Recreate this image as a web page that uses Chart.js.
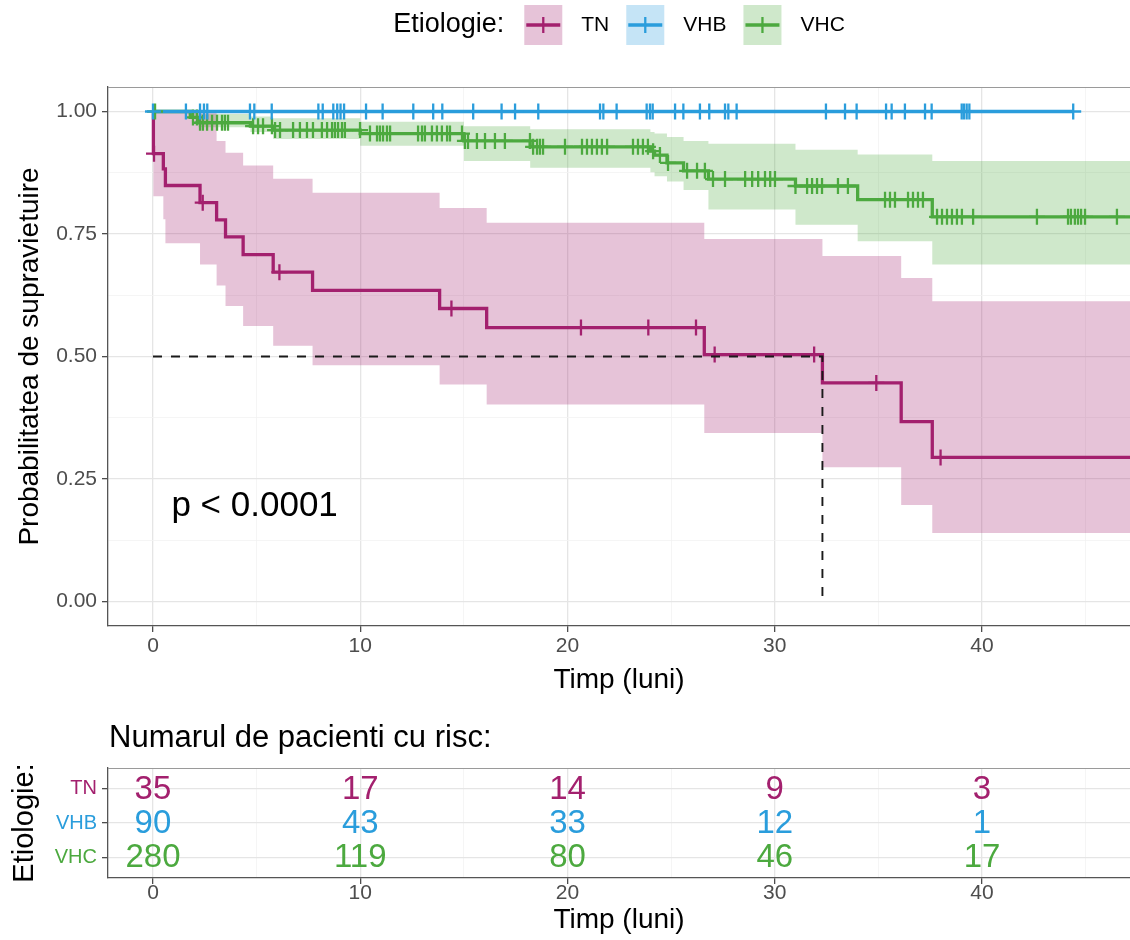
<!DOCTYPE html>
<html>
<head>
<meta charset="utf-8">
<script src="https://cdn.jsdelivr.net/npm/chart.js@4.4.1/dist/chart.umd.min.js"></script>
<style>
  html, body { margin: 0; padding: 0; background: #fff; }
  #wrap { position: relative; width: 1130px; height: 940px; overflow: hidden; }
  canvas { display: block; }
</style>
</head>
<body>
<div id="wrap">
  <canvas id="km" width="1130" height="700"></canvas>
  <canvas id="risk" width="1130" height="240"></canvas>
</div>
<script>
// ---- groups ----
const groups = ['TN', 'VHB', 'VHC'];
const groupColors = ['#A3206E', '#2A9DDC', '#4CA93F'];

// ---- Kaplan-Meier estimates: TN ----
const timeTN  = [0, 0.02, 0.5, 0.6, 2.27, 3.07, 3.5, 4.35, 5.8, 7.7, 13.83, 16.1, 26.6, 32.3, 36.1, 37.6, 48];
const survTN  = [1, 0.914, 0.883, 0.849, 0.814, 0.779, 0.744, 0.708, 0.672, 0.635, 0.598, 0.559, 0.504, 0.446, 0.367, 0.294, 0.294];
const upperTN = [1, 1, 1, 1, 1, 0.94, 0.916, 0.89, 0.863, 0.834, 0.803, 0.773, 0.740, 0.705, 0.660, 0.613, 0.613];
const lowerTN = [1, 0.827, 0.78, 0.731, 0.688, 0.645, 0.603, 0.562, 0.522, 0.482, 0.443, 0.402, 0.344, 0.274, 0.197, 0.140, 0.140];
const censorTN = [0.05, 2.4, 6.1, 14.4, 20.65, 23.9, 26.2, 27.1, 31.9, 34.9, 38.0];

// ---- Kaplan-Meier estimates: VHB ----
const timeVHB = [0, 44.4];
const survVHB = [1, 1];
const censorVHB = [0.0, 1.59, 2.27, 2.46, 2.62, 4.68, 4.89, 5.73, 7.98, 8.19, 8.70, 8.89, 9.05, 9.22,
  10.28, 11.08, 12.56, 13.52, 13.96, 15.45, 16.82, 17.47, 18.59, 21.57, 21.73, 22.37, 23.82, 23.98,
  24.11, 25.19, 25.59, 26.39, 26.84, 27.60, 27.76, 28.16, 32.47, 33.39, 33.95, 35.37, 35.64, 36.28,
  37.25, 37.57, 39.02, 39.13, 39.26, 39.39, 44.4];

// ---- Kaplan-Meier estimates: VHC ----
const timeVHC  = [0, 1.8, 2.2, 4.7, 5.8, 10.0, 15.0, 18.2, 24.0, 24.2, 24.8, 25.6, 26.8, 31.0, 34.0, 37.6, 48];
const survVHC  = [1, 0.988, 0.977, 0.970, 0.962, 0.955, 0.940, 0.928, 0.919, 0.911, 0.895, 0.879, 0.862, 0.848, 0.820, 0.785, 0.785];
const upperVHC = [1, 1, 0.995, 0.99, 0.986, 0.979, 0.970, 0.964, 0.958, 0.955, 0.948, 0.940, 0.934, 0.922, 0.912, 0.899, 0.899];
const lowerVHC = [1, 0.985, 0.968, 0.958, 0.944, 0.930, 0.899, 0.885, 0.876, 0.868, 0.857, 0.840, 0.800, 0.769, 0.735, 0.688, 0.688];
const censorVHC = [0.1, 1.93, 2.12, 2.27, 2.41, 2.61, 2.85, 3.09, 3.33, 3.47, 3.62, 4.83, 5.07, 5.31,
  5.74, 5.89, 6.13, 6.76, 7.09, 7.43, 7.72, 8.15, 8.40, 8.64, 8.78, 8.93, 9.12, 9.26, 9.99, 10.47,
  10.81, 10.95, 11.10, 11.29, 11.44, 12.79, 12.98, 13.12, 13.46, 13.70, 13.94, 14.19, 14.33, 14.91,
  15.05, 15.20, 15.63, 16.02, 16.50, 16.98, 18.19, 18.34, 18.53, 18.67, 18.82, 19.88, 20.70, 20.94,
  21.18, 21.42, 21.66, 21.91, 23.16, 23.40, 23.64, 23.88, 24.13, 24.46, 24.85, 25.77, 26.25, 26.63,
  27.02, 27.60, 28.57, 28.91, 29.20, 29.53, 29.78, 30.01, 31.0, 31.56, 31.80, 32.04, 32.28, 33.05,
  33.53, 35.32, 35.56, 35.80, 36.43, 36.67, 36.91, 37.15, 37.83, 38.07, 38.31, 38.55, 38.79, 39.03,
  39.57, 42.65, 44.15, 44.29, 44.48, 44.63, 44.78, 44.97, 46.51];

// ---- axes ----
const xMajor = [0, 10, 20, 30, 40];
const xMinor = [5, 15, 25, 35, 45];
const yMajor = [0, 0.25, 0.5, 0.75, 1];
const yMinor = [0.125, 0.375, 0.625, 0.875];

// ---- numbers at risk ----
const riskTimes = [0, 10, 20, 30, 40];
const riskTN  = [35, 17, 14, 9, 3];
const riskVHB = [90, 43, 33, 12, 1];
const riskVHC = [280, 119, 80, 46, 17];

const pvalText = 'p < 0.0001';
const legendTitle = 'Etiologie:';

// ---------------------------------------------------------------
const FONT = '"Liberation Sans", Arial, Helvetica, sans-serif';
Chart.defaults.font.family = FONT;
Chart.defaults.color = '#4d4d4d';

const X_MIN = -2.17, X_MAX = 47.14;
const TICK_GREY = '#4d4d4d';

function fade(hex, a) {
  const n = parseInt(hex.slice(1), 16);
  return `rgba(${(n >> 16) & 255},${(n >> 8) & 255},${n & 255},${a})`;
}
function toPoints(times, values) {
  return times.map((t, i) => ({ x: t, y: values[i] }));
}
function stepAt(times, values, t) {
  let v = values[0];
  for (let i = 0; i < times.length; i++) {
    if (times[i] <= t) v = values[i]; else break;
  }
  return v;
}
const isMajorX = c => c.tick && xMajor.includes(c.tick.value);
const isMajorY = c => c.tick && yMajor.includes(c.tick.value);

const [cTN, cVHB, cVHC] = groupColors;
const medTN = timeTN[survTN.findIndex(s => s <= 0.5)];

function band(times, vals, color, fillPrev) {
  return {
    type: 'line', data: toPoints(times, vals), stepped: 'before',
    borderWidth: 0, borderColor: 'rgba(0,0,0,0)', pointRadius: 0,
    fill: fillPrev ? '-1' : false, backgroundColor: fade(color, 0.27), order: 5
  };
}
function curve(times, vals, color) {
  return {
    type: 'line', data: toPoints(times, vals), stepped: 'before',
    borderColor: color, borderWidth: 3.3, pointRadius: 0, fill: false, order: 2
  };
}
function censor(marks, times, vals, color) {
  return {
    type: 'line', data: marks.map(t => ({ x: t, y: stepAt(times, vals, t) })),
    showLine: false, pointStyle: 'cross', pointRadius: 8, pointBorderWidth: 2.3,
    pointBorderColor: color, pointBackgroundColor: color, order: 1
  };
}

function xScale(labelPad, height) {
  return {
    type: 'linear', min: X_MIN, max: X_MAX,
    afterBuildTicks: s => { s.ticks = xMajor.concat(xMinor).sort((a, b) => a - b).map(v => ({ value: v })); },
    afterFit: s => { s.height = height; },
    ticks: {
      callback: v => xMajor.includes(v) ? String(v) : '',
      color: TICK_GREY, font: { size: 21 }, padding: labelPad, autoSkip: false, maxRotation: 0
    },
    grid: {
      color: c => isMajorX(c) ? '#e5e5e5' : '#f3f3f3',
      lineWidth: c => isMajorX(c) ? 1.3 : 0.8,
      tickColor: c => isMajorX(c) ? TICK_GREY : 'rgba(0,0,0,0)',
      tickWidth: 1.3, tickLength: 6, drawTicks: true
    },
    border: { display: true, color: '#555', width: 1.3 },
    title: { display: true, text: 'Timp (luni)', color: '#000', font: { size: 28, lineHeight: 1 }, padding: { top: 0, bottom: 6 } }
  };
}

// panel top edge
const topEdge = {
  id: 'topEdge',
  afterDraw(chart) {
    const { ctx, chartArea: a } = chart;
    ctx.save();
    ctx.strokeStyle = '#9a9a9a';
    ctx.lineWidth = 1;
    ctx.beginPath();
    ctx.moveTo(a.left, a.top + 0.5);
    ctx.lineTo(a.right, a.top + 0.5);
    ctx.stroke();
    ctx.restore();
  }
};

// legend strip above the panel
const groupLegend = {
  id: 'groupLegend',
  afterDraw(chart) {
    const { ctx, chartArea: a } = chart;
    const cy = 25, boxW = 38, boxH = 40, gapTitle = 20, gapKey = 19, gapItem = 17;
    ctx.save();
    ctx.textBaseline = 'middle';
    ctx.textAlign = 'left';
    ctx.font = `27px ${FONT}`;
    const titleW = ctx.measureText(legendTitle).width;
    ctx.font = `21px ${FONT}`;
    const labelW = groups.map(g => ctx.measureText(g).width);
    let total = titleW + gapTitle;
    labelW.forEach((w, i) => { total += boxW + gapKey + w + (i < groups.length - 1 ? gapItem : 0); });
    let x = (a.left + a.right) / 2 - total / 2;

    ctx.fillStyle = '#000';
    ctx.font = `27px ${FONT}`;
    ctx.fillText(legendTitle, x, cy);
    x += titleW + gapTitle;

    groups.forEach((g, i) => {
      const col = groupColors[i];
      ctx.fillStyle = fade(col, 0.27);
      ctx.fillRect(x, cy - boxH / 2, boxW, boxH);
      ctx.strokeStyle = col;
      ctx.lineWidth = 3.3;
      ctx.beginPath();
      ctx.moveTo(x + 2, cy); ctx.lineTo(x + boxW - 2, cy);
      ctx.stroke();
      ctx.lineWidth = 2.3;
      ctx.beginPath();
      ctx.moveTo(x + boxW / 2, cy - 8); ctx.lineTo(x + boxW / 2, cy + 8);
      ctx.stroke();
      x += boxW + gapKey;
      ctx.fillStyle = '#000';
      ctx.font = `21px ${FONT}`;
      ctx.fillText(g, x, cy);
      x += labelW[i] + gapItem;
    });
    ctx.restore();
  }
};

// log-rank p-value annotation
const pvalLabel = {
  id: 'pvalLabel',
  afterDatasetsDraw(chart) {
    const { ctx, scales } = chart;
    ctx.save();
    ctx.fillStyle = '#000';
    ctx.font = `35px ${FONT}`;
    ctx.textAlign = 'left';
    ctx.textBaseline = 'middle';
    ctx.fillText(pvalText, scales.x.getPixelForValue(0.89), scales.y.getPixelForValue(0.195));
    ctx.restore();
  }
};

new Chart(document.getElementById('km'), {
  type: 'line',
  data: {
    datasets: [
      band(timeTN, upperTN, cTN, false),
      band(timeTN, lowerTN, cTN, true),
      band(timeVHC, upperVHC, cVHC, false),
      band(timeVHC, lowerVHC, cVHC, true),
      curve(timeTN, survTN, cTN),
      curve(timeVHB, survVHB, cVHB),
      curve(timeVHC, survVHC, cVHC),
      censor(censorTN, timeTN, survTN, cTN),
      censor(censorVHB, timeVHB, survVHB, cVHB),
      censor(censorVHC, timeVHC, survVHC, cVHC),
      {
        type: 'line',
        data: [{ x: 0, y: 0.5 }, { x: medTN, y: 0.5 }, { x: medTN, y: 0 }],
        borderColor: '#1a1a1a', borderWidth: 1.9, borderDash: [9, 9],
        pointRadius: 0, fill: false, order: 0
      }
    ]
  },
  options: {
    responsive: false, animation: false, devicePixelRatio: 1, events: [],
    layout: { autoPadding: false, padding: { top: 87, left: 0, right: 0, bottom: 0 } },
    plugins: { legend: { display: false }, tooltip: { enabled: false } },
    scales: {
      x: xScale(2, 74),
      y: {
        type: 'linear', min: -0.05, max: 1.05,
        afterBuildTicks: s => { s.ticks = yMajor.concat(yMinor).sort((a, b) => a - b).map(v => ({ value: v })); },
        afterFit: s => { s.width = 108; },
        ticks: {
          callback: v => yMajor.includes(v) ? v.toFixed(2) : '',
          color: TICK_GREY, font: { size: 21 }, padding: 5, autoSkip: false
        },
        grid: {
          color: c => isMajorY(c) ? '#e5e5e5' : '#f3f3f3',
          lineWidth: c => isMajorY(c) ? 1.3 : 0.8,
          tickColor: c => isMajorY(c) ? TICK_GREY : 'rgba(0,0,0,0)',
          tickWidth: 1.3, tickLength: 6, drawTicks: true
        },
        border: { display: true, color: '#555', width: 1.3 },
        title: {
          display: true, text: 'Probabilitatea de supravietuire', color: '#000',
          font: { size: 28, lineHeight: 1 }, padding: { top: 16, bottom: 0 }
        }
      }
    }
  },
  plugins: [topEdge, groupLegend, pvalLabel]
});

// ---------------- number-at-risk table ----------------
const riskCounts = [riskTN, riskVHB, riskVHC];
const rowOf = i => groups.length - i;

const riskNumbers = {
  id: 'riskNumbers',
  afterDatasetsDraw(chart) {
    const { ctx } = chart;
    ctx.save();
    ctx.font = `33px ${FONT}`;
    ctx.textAlign = 'center';
    ctx.textBaseline = 'middle';
    riskCounts.forEach((counts, di) => {
      ctx.fillStyle = groupColors[di];
      chart.getDatasetMeta(di).data.forEach((pt, i) => {
        ctx.fillText(String(counts[i]), pt.x, pt.y + 1);
      });
    });
    ctx.restore();
  }
};
const riskTitle = {
  id: 'riskTitle',
  afterDraw(chart) {
    const { ctx, chartArea: a } = chart;
    ctx.save();
    ctx.fillStyle = '#000';
    ctx.font = `31px ${FONT}`;
    ctx.textAlign = 'left';
    ctx.textBaseline = 'middle';
    ctx.fillText('Numarul de pacienti cu risc:', a.left + 1, 38);
    ctx.restore();
  }
};

new Chart(document.getElementById('risk'), {
  type: 'scatter',
  data: {
    datasets: riskCounts.map((counts, di) => ({
      data: riskTimes.map((t, i) => ({ x: t, y: rowOf(di) })),
      pointRadius: 0, showLine: false
    }))
  },
  options: {
    responsive: false, animation: false, devicePixelRatio: 1, events: [],
    layout: { autoPadding: false, padding: { top: 68, left: 0, right: 0, bottom: 0 } },
    plugins: { legend: { display: false }, tooltip: { enabled: false } },
    scales: {
      x: xScale(-3, 62),
      y: {
        type: 'linear', min: 0.4, max: 3.6,
        afterBuildTicks: s => { s.ticks = groups.map((g, i) => ({ value: rowOf(i) })); },
        afterFit: s => { s.width = 108; },
        ticks: {
          callback: v => groups[groups.length - v],
          color: c => groupColors[groups.length - c.tick.value],
          font: { size: 20 }, padding: 5, autoSkip: false
        },
        grid: { color: '#e5e5e5', lineWidth: 1.3, tickColor: TICK_GREY, tickWidth: 1.3, tickLength: 6 },
        border: { display: true, color: '#555', width: 1.3 },
        title: {
          display: true, text: 'Etiologie:', color: '#000',
          font: { size: 29, lineHeight: 1 }, padding: { top: 10, bottom: 0 }
        }
      }
    }
  },
  plugins: [topEdge, riskNumbers, riskTitle]
});
</script>
</body>
</html>
